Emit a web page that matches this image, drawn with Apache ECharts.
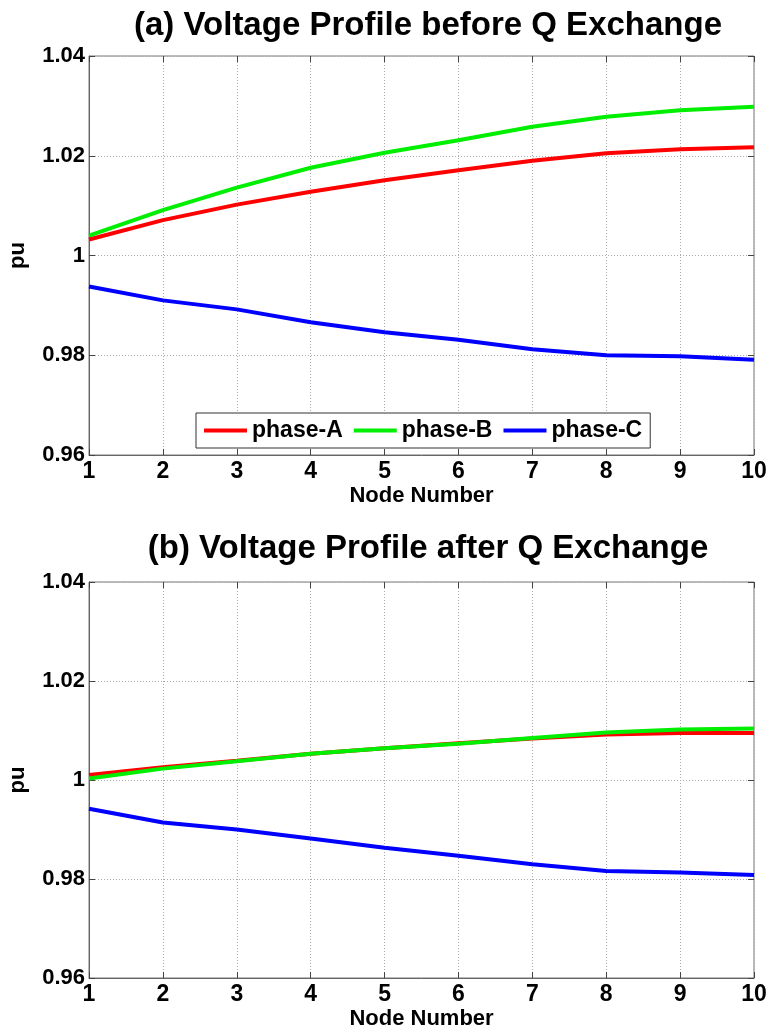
<!DOCTYPE html>
<html>
<head>
<meta charset="utf-8">
<script src="https://cdn.jsdelivr.net/npm/echarts@6/dist/echarts.min.js"></script>
<style>
  html, body { margin: 0; padding: 0; background: #fff; }
  #main { width: 768px; height: 1033px; }
</style>
</head>
<body>
<div id="main"></div>
<script>
// node numbers
var nodes = [1, 2, 3, 4, 5, 6, 7, 8, 9, 10];
// (a) before Q exchange
var beforeA = [1.0032, 1.0071, 1.0102, 1.0128, 1.0151, 1.0171, 1.0190, 1.0205, 1.0213, 1.0217];
var beforeB = [1.0040, 1.0091, 1.0136, 1.0176, 1.0206, 1.0231, 1.0258, 1.0278, 1.0291, 1.0298];
var beforeC = [0.9938, 0.9910, 0.9892, 0.9866, 0.9846, 0.9831, 0.9812, 0.9800, 0.9798, 0.9791];
// (b) after Q exchange
var afterA = [1.0010, 1.0026, 1.0039, 1.0053, 1.0064, 1.0074, 1.0084, 1.0092, 1.0095, 1.0095];
var afterB = [1.0003, 1.0023, 1.0038, 1.0053, 1.0064, 1.0073, 1.0085, 1.0096, 1.0102, 1.0104];
var afterC = [0.9942, 0.9914, 0.9900, 0.9882, 0.9863, 0.9847, 0.9830, 0.9816, 0.9813, 0.9808];

var FONT = "'Liberation Sans', Arial, sans-serif";
var seriesColors = ['#ff0000', '#00ee00', '#0000ff'];
var seriesNames = ['phase-A', 'phase-B', 'phase-C'];

function pairs(vals) {
  return nodes.map(function (n, i) { return [n, vals[i]]; });
}

var chart = echarts.init(document.getElementById('main'));

var grids = [
  {left: 89, right: 14, top: 56, height: 399, show: true, borderColor: '#777', borderWidth: 1, outerBoundsMode: 'none'},
  {left: 89, right: 14, top: 582, height: 396, show: true, borderColor: '#777', borderWidth: 1, outerBoundsMode: 'none'}
];

var xAxes = [], yAxes = [];
for (var g = 0; g < 2; g++) {
  // bottom x axis with labels
  xAxes.push({
    type: 'value', gridIndex: g, min: 1, max: 10, interval: 1,
    name: 'Node Number', nameLocation: 'middle', nameGap: 30,
    nameTextStyle: {fontFamily: FONT, fontWeight: 'bold', fontSize: 22, color: '#000'},
    axisLine: {show: true, onZero: false, lineStyle: {color: '#666'}},
    axisTick: {inside: true, length: 6, lineStyle: {color: '#444'}},
    axisLabel: {fontFamily: FONT, fontWeight: 'bold', fontSize: 23, color: '#000', margin: 5,
                showMinLabel: true, showMaxLabel: true},
    splitLine: {show: true, lineStyle: {type: [1, 2], color: '#aaa'}}
  });
  // top x axis, ticks only
  xAxes.push({
    type: 'value', gridIndex: g, min: 1, max: 10, interval: 1, position: 'top',
    axisLine: {show: false},
    axisTick: {inside: true, length: 6, lineStyle: {color: '#444'}},
    axisLabel: {show: false}, splitLine: {show: false}
  });
  yAxes.push({
    type: 'value', gridIndex: g, min: 0.96, max: 1.04, interval: 0.02,
    name: 'pu', nameLocation: 'middle', nameGap: 60,
    nameTextStyle: {fontFamily: FONT, fontWeight: 'bold', fontSize: 22, color: '#000'},
    axisLine: {show: true, onZero: false, lineStyle: {color: '#666'}},
    axisTick: {inside: true, length: 6, lineStyle: {color: '#444'}},
    axisLabel: {fontFamily: FONT, fontWeight: 'bold', fontSize: 22, color: '#000', margin: 4,
                showMinLabel: true, showMaxLabel: true,
                formatter: function (v) { return String(parseFloat(v.toFixed(2))); }},
    splitLine: {show: true, lineStyle: {type: [1, 2], color: '#aaa'}}
  });
  yAxes.push({
    type: 'value', gridIndex: g, min: 0.96, max: 1.04, interval: 0.02, position: 'right',
    axisLine: {show: false},
    axisTick: {inside: true, length: 6, lineStyle: {color: '#444'}},
    axisLabel: {show: false}, splitLine: {show: false}
  });
}

var allData = [[beforeA, beforeB, beforeC], [afterA, afterB, afterC]];
var series = [];
for (var g2 = 0; g2 < 2; g2++) {
  for (var s = 0; s < 3; s++) {
    series.push({
      name: seriesNames[s], type: 'line', xAxisIndex: g2 * 2, yAxisIndex: g2 * 2,
      data: pairs(allData[g2][s]), showSymbol: false, symbol: 'none', smooth: false,
      lineStyle: {color: seriesColors[s], width: 4},
      itemStyle: {color: seriesColors[s]},
      z: 3 + (s === 2 ? 0 : s)
    });
  }
}

chart.setOption({
  animation: false,
  backgroundColor: '#fff',
  title: [
    {text: '(a) Voltage Profile before Q Exchange', left: 423, top: 4, textAlign: 'center',
     textStyle: {fontFamily: FONT, fontWeight: 'bold', fontSize: 33, color: '#000'}},
    {text: '(b) Voltage Profile after Q Exchange', left: 423, top: 527, textAlign: 'center',
     textStyle: {fontFamily: FONT, fontWeight: 'bold', fontSize: 33, color: '#000'}}
  ],
  legend: {
    data: seriesNames, left: 196, top: 413, orient: 'horizontal',
    backgroundColor: '#fff', borderColor: '#333', borderWidth: 1,
    padding: [6, 8, 6, 8], itemGap: 11, itemWidth: 43, itemHeight: 4, icon: 'rect',
    textStyle: {fontFamily: FONT, fontWeight: 'bold', fontSize: 23, color: '#000'}
  },
  grid: grids,
  xAxis: xAxes,
  yAxis: yAxes,
  series: series
});
</script>
</body>
</html>
